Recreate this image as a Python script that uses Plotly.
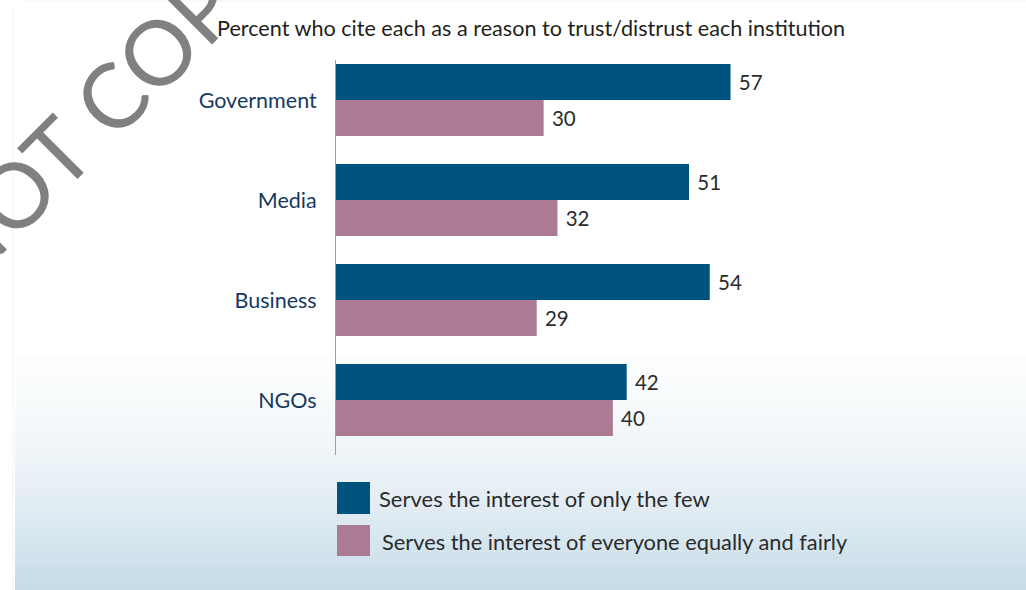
import plotly.graph_objects as go

categories = ["Government", "Media", "Business", "NGOs"]
few_values = [57, 51, 54, 42]
everyone_values = [30, 32, 29, 40]
series_names = ["Serves the interest of only the few",
                "Serves the interest of everyone equally and fairly"]
title_text = "Percent who cite each as a reason to trust/distrust each institution"

W_FIG, H_FIG = 1026, 590
L, R, T, B = 336, 56, 60, 135
PW = W_FIG - L - R
PH = H_FIG - T - B

def px(x):
    return (x - L) / PW

def py(y):
    return 1 - (y - T) / PH

BLUE = "#00537f"
PINK = "#ab7b93"
FONT = "Lato"

fig = go.Figure()
fig.add_trace(go.Bar(
    y=categories, x=few_values, orientation="h", name=series_names[0],
    marker=dict(color=BLUE, line=dict(width=0)),
    text=few_values, texttemplate=" %{x}", textposition="outside",
    textfont=dict(size=20.5, color="#2b2b2b", family=FONT), cliponaxis=False,
))
fig.add_trace(go.Bar(
    y=categories, x=everyone_values, orientation="h", name=series_names[1],
    marker=dict(color=PINK, line=dict(width=0)),
    text=everyone_values, texttemplate=" %{x}", textposition="outside",
    textfont=dict(size=20.5, color="#2b2b2b", family=FONT), cliponaxis=False,
))

shapes = []
# gradient background panel
y0g, y1g = 357, 590
n = 60
c0 = (252, 253, 254)
c1 = (197, 219, 231)
for i in range(n):
    ya = y0g + (y1g - y0g) * i / n
    yb = y0g + (y1g - y0g) * (i + 1) / n + 0.6
    t = ((i + 0.5) / n) ** 1.6
    c = tuple(round(c0[k] + (c1[k] - c0[k]) * t) for k in range(3))
    shapes.append(dict(type="rect", xref="paper", yref="paper", layer="below",
                       x0=px(15), x1=px(1026), y0=py(yb), y1=py(ya),
                       fillcolor="rgb(%d,%d,%d)" % c, line=dict(width=0)))
# faint panel edge
shapes.append(dict(type="line", xref="paper", yref="paper", layer="below",
                   x0=px(13), x1=px(13), y0=py(10), y1=py(590),
                   line=dict(color="#f2f2f2", width=1)))
shapes.append(dict(type="line", xref="paper", yref="paper", layer="below",
                   x0=px(25), x1=px(1026), y0=py(1), y1=py(1),
                   line=dict(color="#f2f2f2", width=1)))
# legend swatches
shapes.append(dict(type="rect", xref="paper", yref="paper",
                   x0=px(337), x1=px(370), y0=py(514), y1=py(482),
                   fillcolor=BLUE, line=dict(width=0)))
shapes.append(dict(type="rect", xref="paper", yref="paper",
                   x0=px(337), x1=px(370), y0=py(556), y1=py(525),
                   fillcolor=PINK, line=dict(width=0)))

annotations = [
    dict(text=series_names[0], xref="paper", yref="paper", x=px(377), y=py(499),
         xanchor="left", yanchor="middle", showarrow=False,
         font=dict(size=22, color="#2b2b2b", family=FONT)),
    dict(text=series_names[1], xref="paper", yref="paper", x=px(380), y=py(541),
         xanchor="left", yanchor="middle", showarrow=False,
         font=dict(size=21.8, color="#2b2b2b", family=FONT)),
    dict(text="DO NOT COPY", xref="paper", yref="paper", x=px(41), y=py(166),
         xanchor="center", yanchor="middle", showarrow=False, textangle=-45,
         font=dict(size=90, color="#808080", family=FONT, weight=400)),
]

fig.update_layout(
    width=W_FIG, height=H_FIG,
    margin=dict(l=L, r=R, t=T, b=B),
    paper_bgcolor="white", plot_bgcolor="rgba(0,0,0,0)",
    barmode="group", bargap=0.28, bargroupgap=0,
    showlegend=False,
    font=dict(family=FONT),
    title=dict(text=title_text, x=217 / W_FIG, xanchor="left",
               y=1 - 28 / H_FIG, yanchor="middle", xref="container", yref="container",
               font=dict(size=21.6, color="#231f20", family=FONT)),
    shapes=shapes, annotations=annotations,
)
fig.update_xaxes(range=[0, 91.6], showgrid=False, zeroline=False, showticklabels=False,
                 showline=False, fixedrange=True)
fig.update_yaxes(type="category", range=[3.55, -0.4], showgrid=False, zeroline=False,
                 showline=True, linecolor="#7fa8c8", linewidth=1,
                 ticks="", ticklabelstandoff=14,
                 tickfont=dict(size=21.5, color="#163a5f", family=FONT))

fig.write_html("out.html")
